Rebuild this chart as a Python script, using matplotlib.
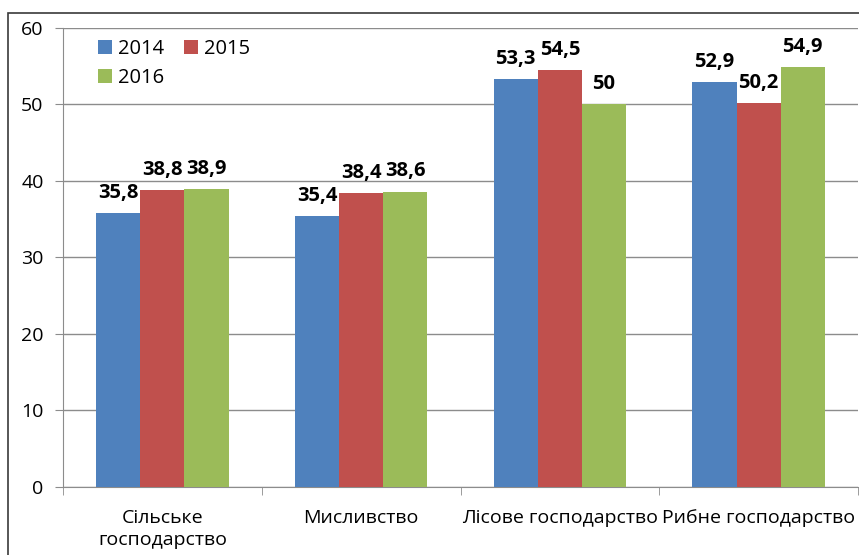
# -*- coding: utf-8 -*-
import numpy as np
import matplotlib
matplotlib.use("Agg")
import matplotlib.pyplot as plt
from matplotlib.patches import Rectangle

categories = ["Сільське\nгосподарство", "Мисливство",
              "Лісове господарство", "Рибне господарство"]
years = ["2014", "2015", "2016"]
vals_2014 = [35.8, 35.4, 53.3, 52.9]
vals_2015 = [38.8, 38.4, 54.5, 50.2]
vals_2016 = [38.9, 38.6, 50.0, 54.9]
colors = ["#4F81BD", "#C0504D", "#9BBB59"]

plt.rcParams['font.family'] = ['Open Sans', 'DejaVu Sans']

fig = plt.figure(figsize=(8.59, 5.55), dpi=100)
ax = fig.add_axes([63 / 859, 1 - 486.5 / 555, 795 / 859, 458.5 / 555])

# outer frame of the chart (only top/left visible in the crop)
fig.patches.append(Rectangle((8 / 859, -0.2), 1.5, 0.2 + (555 - 13) / 555,
                             transform=fig.transFigure, fill=False,
                             edgecolor='#3a3a3a', linewidth=1.2))

ind = np.arange(len(categories))
w = 1 / 4.5
series = [vals_2014, vals_2015, vals_2016]
bars = []
for i, vals in enumerate(series):
    b = ax.bar(ind + (i - 1) * w, vals, w, color=colors[i], label=years[i],
               zorder=3)
    bars.append(b)
    for rect, v in zip(b, vals):
        txt = ('%.1f' % v).replace('.', ',')
        if txt.endswith(',0'):
            txt = txt[:-2]
        ax.text(rect.get_x() + rect.get_width() / 2, v + 1.35, txt,
                ha='center', va='bottom', fontsize=14.5, fontweight='bold',
                zorder=4)

ax.set_xlim(-0.5, len(categories) - 0.5)
ax.set_ylim(0, 60)
ax.set_yticks(range(0, 61, 10))
ax.grid(axis='y', color='#8c8c8c', linewidth=1, zorder=0)

ax.set_xticks(ind)
ax.set_xticklabels(categories, fontsize=14, linespacing=1.3)
ax.tick_params(axis='x', length=0, pad=16)
ax.set_xticks(np.arange(-0.5, len(categories), 1), minor=True)
ax.tick_params(axis='x', which='minor', length=6, color='#8c8c8c',
               direction='out')
ax.tick_params(axis='y', length=6, color='#8c8c8c', labelsize=14, pad=8)

for s in ['top', 'right']:
    ax.spines[s].set_visible(False)
for s in ['left', 'bottom']:
    ax.spines[s].set_color('#8c8c8c')

h = [bars[0], bars[2], bars[1]]
l = [years[0], years[2], years[1]]
ax.legend(h, l, ncol=2, loc='upper left', bbox_to_anchor=(0.026, 1.006),
          frameon=False, fontsize=14.5, handlelength=0.7, handleheight=0.7,
          handletextpad=0.3, columnspacing=1.0, labelspacing=0.45,
          borderpad=0.2)

fig.savefig("out.png", dpi=100)
